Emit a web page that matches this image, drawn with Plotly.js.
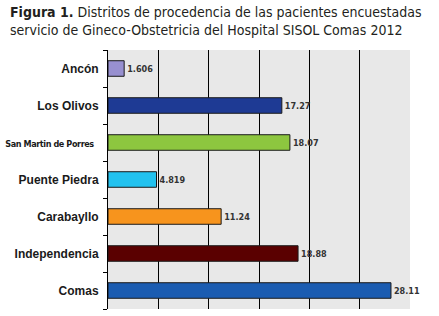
<!DOCTYPE html>
<html>
<head>
<meta charset="utf-8">
<script src="https://cdn.plot.ly/plotly-3.0.1.min.js"></script>
<style>
html,body{margin:0;padding:0;background:#fff;}
#chart{width:439px;height:316px;}
</style>
</head>
<body>
<div id="chart"></div>
<script>
var districts = ["Ancón", "Los Olivos", "San Martin de Porres", "Puente Piedra", "Carabayllo", "Independencia", "Comas"];
var tickLabels = ["Ancón", "Los Olivos", "<span style=\"font-size:9px;font-family:DejaVu Sans Condensed;letter-spacing:-0.4px\">San Martin de Porres&nbsp;&nbsp;</span>", "Puente Piedra", "Carabayllo", "Independencia", "Comas"];
var percents = [1.606, 17.27, 18.07, 4.819, 11.24, 18.88, 28.11];
var valueLabels = ["1.606", "17.27", "18.07", "4.819", "11.24", "18.88", "28.11"];
var barColors = ["#9890d0", "#1e3a94", "#8dc63f", "#22c2ef", "#f7941d", "#5a0000", "#1b5cb1"];
var gridValues = [5, 10, 15, 20, 25];
var titleLines = ["<b>Figura 1.</b> Distritos de procedencia de las pacientes encuestadas", "servicio de Gineco-Obstetricia del Hospital SISOL Comas 2012"];

var trace = {
  type: "bar",
  orientation: "h",
  x: percents,
  y: districts,
  width: 0.42,
  marker: {color: barColors, line: {color: "#1a1a1a", width: 1}},
  text: valueLabels,
  textposition: "outside",
  cliponaxis: false,
  textfont: {family: "DejaVu Sans Condensed, Liberation Sans", size: 9, color: "#333333", weight: "bold"},
  hoverinfo: "none"
};

var layout = {
  width: 439, height: 316,
  margin: {l: 108, r: 29, t: 50, b: 7},
  paper_bgcolor: "#ffffff",
  plot_bgcolor: "#e8e8e8",
  showlegend: false,
  annotations: [{
    text: titleLines.join("<br>"),
    xref: "paper", yref: "paper",
    x: -0.331, xanchor: "left",
    y: 1.185, yanchor: "top",
    align: "left",
    showarrow: false,
    font: {family: "DejaVu Sans Condensed, DejaVu Sans", size: 14, color: "#231f20"}
  }],
  xaxis: {
    range: [0, 30],
    tickmode: "array",
    tickvals: gridValues,
    showticklabels: false,
    ticks: "",
    showgrid: true,
    gridcolor: "#000000",
    gridwidth: 1,
    zeroline: false,
    showline: false,
    fixedrange: true
  },
  yaxis: {
    type: "category",
    categoryorder: "array",
    categoryarray: districts,
    autorange: "reversed",
    tickmode: "array",
    tickvals: districts,
    ticktext: tickLabels,
    tickson: "boundaries",
    ticks: "outside",
    ticklen: 4,
    tickcolor: "#000000",
    tickwidth: 1,
    showline: true,
    linecolor: "#000000",
    linewidth: 1,
    showgrid: false,
    zeroline: false,
    ticklabelstandoff: 6,
    tickfont: {family: "Liberation Sans", size: 12, color: "#1a1a1a", weight: "bold"},
    fixedrange: true
  }
};

Plotly.newPlot("chart", [trace], layout, {displayModeBar: false, staticPlot: true});
</script>
</body>
</html>
